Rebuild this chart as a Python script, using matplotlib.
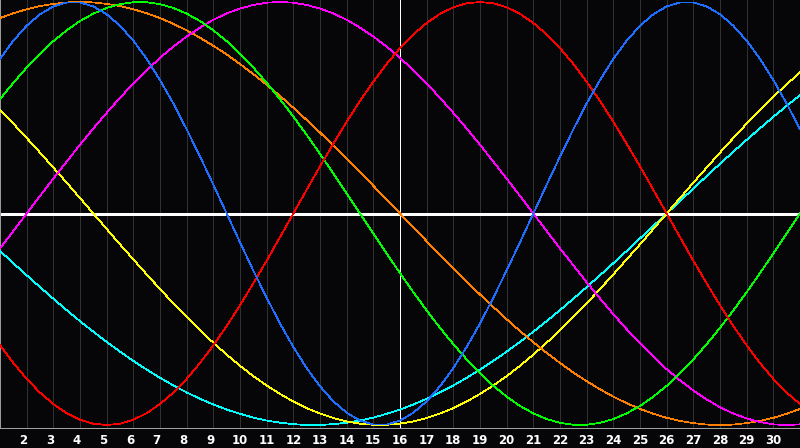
#!/usr/bin/env python3
import numpy as np
import matplotlib
matplotlib.use("Agg")
import matplotlib.pyplot as plt

# --- x positions: every half day from day 1 to day 31 ---
days = np.arange(1, 31.5, 0.5)
tick_days = list(range(2, 31))

# --- Cycle values (-1 .. 1) at each half day ---
red = [-0.623, -0.707, -0.782, -0.847, -0.901, -0.944, -0.975, -0.994, -1.000, -0.994,
       -0.975, -0.944, -0.901, -0.847, -0.782, -0.707, -0.623, -0.532, -0.434, -0.330,
       -0.223, -0.112, 0.000, 0.112, 0.223, 0.330, 0.434, 0.532, 0.623, 0.707,
       0.782, 0.847, 0.901, 0.944, 0.975, 0.994, 1.000, 0.994, 0.975, 0.944,
       0.901, 0.847, 0.782, 0.707, 0.623, 0.532, 0.434, 0.330, 0.223, 0.112,
       0.000, -0.112, -0.223, -0.330, -0.434, -0.532, -0.623, -0.707, -0.782, -0.847, -0.901]
green = [0.541, 0.618, 0.690, 0.756, 0.815, 0.866, 0.910, 0.945, 0.972, 0.990,
         0.999, 0.999, 0.990, 0.972, 0.945, 0.910, 0.866, 0.815, 0.756, 0.690,
         0.618, 0.541, 0.458, 0.372, 0.282, 0.189, 0.095, 0.000, -0.095, -0.189,
         -0.282, -0.372, -0.458, -0.541, -0.618, -0.690, -0.756, -0.815, -0.866, -0.910,
         -0.945, -0.972, -0.990, -0.999, -0.999, -0.990, -0.972, -0.945, -0.910, -0.866,
         -0.815, -0.756, -0.690, -0.618, -0.541, -0.458, -0.372, -0.282, -0.189, -0.095, 0.000]
blue = [0.731, 0.817, 0.888, 0.942, 0.979, 0.998, 0.998, 0.979, 0.942, 0.888,
        0.817, 0.731, 0.631, 0.520, 0.398, 0.270, 0.136, 0.000, -0.136, -0.270,
        -0.398, -0.520, -0.631, -0.731, -0.817, -0.888, -0.942, -0.979, -0.998, -0.998,
        -0.979, -0.942, -0.888, -0.817, -0.731, -0.631, -0.520, -0.398, -0.269, -0.136,
        0.000, 0.136, 0.269, 0.398, 0.520, 0.631, 0.731, 0.817, 0.888, 0.942,
        0.979, 0.998, 0.998, 0.979, 0.942, 0.888, 0.817, 0.731, 0.631, 0.520, 0.398]
magenta = [-0.165, -0.083, 0.000, 0.083, 0.165, 0.245, 0.325, 0.402, 0.476, 0.547,
           0.614, 0.677, 0.736, 0.789, 0.837, 0.879, 0.916, 0.946, 0.969, 0.986,
           0.997, 1.000, 0.997, 0.986, 0.969, 0.946, 0.916, 0.879, 0.837, 0.789,
           0.736, 0.677, 0.614, 0.547, 0.476, 0.402, 0.325, 0.245, 0.165, 0.083,
           0.000, -0.083, -0.165, -0.245, -0.325, -0.402, -0.476, -0.547, -0.614, -0.677,
           -0.736, -0.789, -0.837, -0.879, -0.916, -0.946, -0.969, -0.986, -0.997, -1.000, -0.997]
orange = [0.924, 0.947, 0.966, 0.981, 0.991, 0.998, 1.000, 0.998, 0.991, 0.981,
          0.966, 0.947, 0.924, 0.897, 0.866, 0.831, 0.793, 0.752, 0.707, 0.659,
          0.609, 0.556, 0.500, 0.442, 0.383, 0.321, 0.259, 0.195, 0.131, 0.065,
          0.000, -0.065, -0.131, -0.195, -0.259, -0.321, -0.383, -0.442, -0.500, -0.556,
          -0.609, -0.659, -0.707, -0.752, -0.793, -0.831, -0.866, -0.897, -0.924, -0.947,
          -0.966, -0.981, -0.991, -0.998, -1.000, -0.998, -0.991, -0.981, -0.966, -0.947, -0.924]
yellow = [0.489, 0.425, 0.357, 0.288, 0.217, 0.146, 0.073, 0.000, -0.073, -0.146,
          -0.217, -0.288, -0.357, -0.425, -0.489, -0.552, -0.611, -0.667, -0.720, -0.769,
          -0.813, -0.853, -0.889, -0.920, -0.946, -0.967, -0.983, -0.994, -0.999, -0.999,
          -0.994, -0.983, -0.967, -0.946, -0.920, -0.889, -0.853, -0.813, -0.769, -0.720,
          -0.667, -0.611, -0.552, -0.489, -0.425, -0.357, -0.288, -0.217, -0.146, -0.073,
          0.000, 0.073, 0.146, 0.217, 0.288, 0.357, 0.425, 0.489, 0.552, 0.611, 0.667]
cyan = [-0.177, -0.235, -0.292, -0.348, -0.403, -0.457, -0.509, -0.559, -0.607, -0.653,
        -0.697, -0.738, -0.777, -0.813, -0.846, -0.876, -0.903, -0.927, -0.947, -0.965,
        -0.979, -0.989, -0.996, -1.000, -1.000, -0.996, -0.989, -0.979, -0.965, -0.947,
        -0.927, -0.903, -0.876, -0.846, -0.813, -0.777, -0.738, -0.697, -0.653, -0.607,
        -0.559, -0.509, -0.457, -0.403, -0.348, -0.292, -0.235, -0.177, -0.118, -0.059,
        0.000, 0.059, 0.118, 0.177, 0.235, 0.292, 0.348, 0.403, 0.457, 0.509, 0.559]

series = [
    (cyan, "#00ffff"),
    (yellow, "#ffff00"),
    (orange, "#ff8000"),
    (magenta, "#ff00ff"),
    (green, "#00ff00"),
    (red, "#ff0000"),
    (blue, "#1e6eff"),
]

BG = "#060609"
YMIN, YMAX = -1.0142, 1.0095

fig = plt.figure(figsize=(8.0, 4.48), dpi=100, facecolor=BG)
# plot area spans the full width, 428 px tall, day labels underneath
ax = fig.add_axes([0.0, 20 / 448, 1.0, 428 / 448])
ax.set_facecolor(BG)
ax.set_xlim(1, 31)
ax.set_ylim(YMIN, YMAX)

# --- day grid ---
for d in tick_days:
    if d == 16:
        continue
    ax.axvline(d, color="#303030", lw=0.6, zorder=1, antialiased=False)
ax.axvline(16, color="white", lw=0.6, zorder=2, antialiased=False)
ax.axhline(0, color="white", lw=0.9, zorder=2, antialiased=False)

# --- curves ---
for vals, col in series:
    ax.plot(days, vals, color=col, lw=0.55, zorder=3, antialiased=False)

# --- frame: gray left edge and bottom axis line ---
for side in ["top", "right"]:
    ax.spines[side].set_visible(False)
ax.spines["left"].set_color("#9a9a9a")
ax.spines["left"].set_linewidth(0.72)
ax.spines["bottom"].set_color("#a0a0a0")
ax.spines["bottom"].set_linewidth(0.72)
ax.set_xticks([])
ax.set_yticks([])

# --- day labels ---
label_y = YMIN - 6 / 211.5
for d in tick_days:
    xpos = d - 0.12 if d < 10 else d
    ax.text(xpos, label_y, str(d), ha="center", va="top",
            color="white", fontsize=8.5, fontweight="bold", fontfamily="DejaVu Sans",
            clip_on=False)

fig.savefig("out.png", dpi=100, facecolor=BG)
